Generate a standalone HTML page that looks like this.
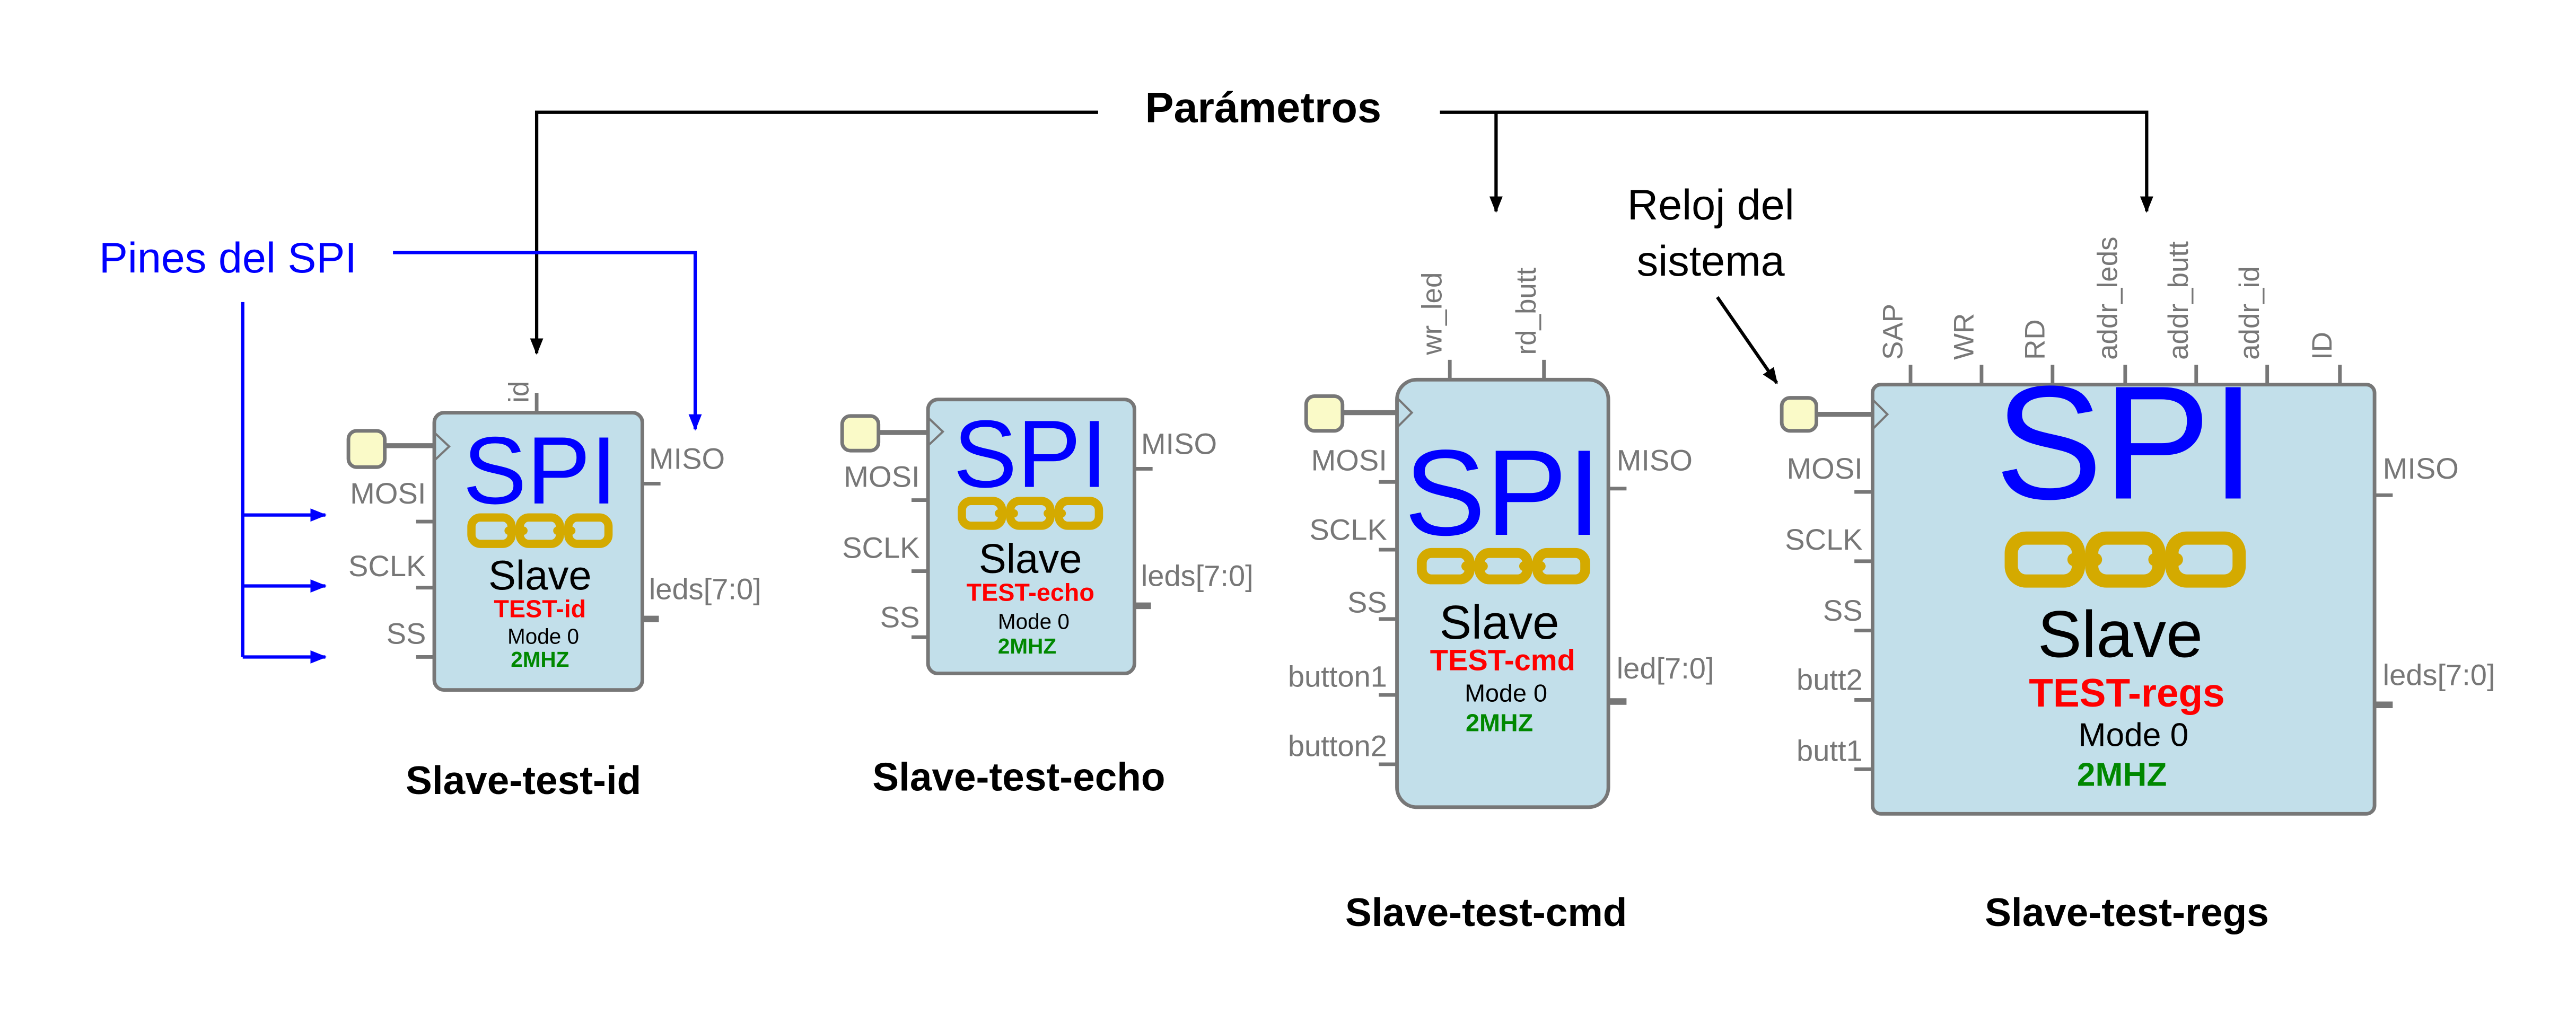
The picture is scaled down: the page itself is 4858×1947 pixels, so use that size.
<!DOCTYPE html>
<html><head><meta charset="utf-8"><style>
html,body{margin:0;padding:0;background:#fff;}
svg{display:block;}
text{font-family:"Liberation Sans Narrow","Liberation Sans",sans-serif;}
.g{fill:#777;}
.t{font-family:"Liberation Sans",sans-serif;}
</style></head><body>
<svg width="4858" height="1947" viewBox="0 0 1560 625.2" preserveAspectRatio="none" xmlns="http://www.w3.org/2000/svg">
<defs>
<marker id="ak" markerWidth="10" markerHeight="10" refX="9" refY="5" orient="auto" markerUnits="userSpaceOnUse"><path d="M0,1 L10,5 L0,9 z" fill="#000"/></marker>
<marker id="ab" markerWidth="10" markerHeight="10" refX="9" refY="5" orient="auto" markerUnits="userSpaceOnUse"><path d="M0,1 L10,5 L0,9 z" fill="#00f"/></marker>
</defs>

<!-- Parametros -->
<text x="765" y="74" class="t" font-size="26" font-weight="bold" text-anchor="middle" fill="#000">Parámetros</text>
<g stroke="#000" stroke-width="2" fill="none">
<path d="M665,68 H325 V214" marker-end="url(#ak)"/>
<path d="M872,68 H1300 V128" marker-end="url(#ak)"/>
<path d="M906,68 V128" marker-end="url(#ak)"/>
<path d="M1040,180 L1076,232" marker-end="url(#ak)"/>
</g>
<text x="1036" y="133" class="t" font-size="26" text-anchor="middle">Reloj del</text>
<text x="1036" y="167" class="t" font-size="26" text-anchor="middle">sistema</text>

<!-- Pines -->
<text x="60" y="165" class="t" font-size="26" fill="#00f">Pines del SPI</text>
<g stroke="#00f" stroke-width="2" fill="none">
<path d="M238,153 H421 V260" marker-end="url(#ab)"/>
<path d="M147,183 V398"/>
<path d="M147,312 H197" marker-end="url(#ab)"/>
<path d="M147,355 H197" marker-end="url(#ab)"/>
<path d="M147,398 H197" marker-end="url(#ab)"/>
</g>

<!-- Box 1 -->
<g stroke="#777" stroke-width="2.2">
<line x1="325" y1="238" x2="325" y2="250"/>
<line x1="233" y1="270" x2="263" y2="270" stroke-width="3"/>
<line x1="252" y1="316" x2="263" y2="316"/>
<line x1="252" y1="356" x2="263" y2="356"/>
<line x1="252" y1="398" x2="263" y2="398"/>
<line x1="389" y1="293" x2="400" y2="293"/>
<line x1="389" y1="375" x2="399" y2="375" stroke-width="4"/>
<rect x="263" y="250" width="126" height="168" rx="6" fill="#c2dfea"/>
<rect x="211" y="261" width="22" height="22" rx="5" fill="#fafac8"/>
<path d="M263,262 L272,270.5 L263,279" fill="none" stroke-width="1.3"/>
</g>
<text transform="translate(320,244) rotate(-90)" font-size="17" class="g">id</text>
<g font-size="18" class="g" text-anchor="end">
<text x="258" y="305">MOSI</text><text x="258" y="349">SCLK</text><text x="258" y="390">SS</text>
</g>
<g font-size="18" class="g"><text x="393" y="284">MISO</text><text x="393" y="363">leds[7:0]</text></g>
<g text-anchor="middle" font-weight="bold">
<text x="327" y="305" font-size="58" fill="#00f" font-weight="normal" class="t">SPI</text>
<text x="327" y="357" font-size="25" fill="#000" font-weight="normal">Slave</text>
<text x="327" y="374" font-size="15" fill="#f00">TEST-id</text>
<text x="329" y="390" font-size="13" fill="#000" font-weight="normal">Mode 0</text>
<text x="327" y="404" font-size="13" fill="#080">2MHZ</text>
</g>
<g fill="none" stroke="#d4aa00" stroke-width="5">
<rect x="285.5" y="313.5" width="24.3" height="16" rx="5.5"/><rect x="314.8" y="313.5" width="24.3" height="16" rx="5.5"/><rect x="344.2" y="313.5" width="24.3" height="16" rx="5.5"/>
<line x1="308" y1="321.5" x2="317" y2="321.5" stroke-linecap="round"/><line x1="337.5" y1="321.5" x2="346" y2="321.5" stroke-linecap="round"/>
</g>
<text x="317" y="481" class="t" font-size="24" font-weight="bold" text-anchor="middle">Slave-test-id</text>

<!-- Box 2 -->
<g stroke="#777" stroke-width="2.2">
<line x1="532" y1="262" x2="562" y2="262" stroke-width="3"/>
<line x1="552" y1="303" x2="562" y2="303"/>
<line x1="552" y1="346" x2="562" y2="346"/>
<line x1="552" y1="386" x2="562" y2="386"/>
<line x1="687" y1="284" x2="698" y2="284"/>
<line x1="687" y1="367" x2="697" y2="367" stroke-width="4"/>
<rect x="562" y="242" width="125" height="166" rx="6" fill="#c2dfea"/>
<rect x="510" y="252" width="22" height="21" rx="5" fill="#fafac8"/>
<path d="M562,253 L571,261.5 L562,270" fill="none" stroke-width="1.3"/>
</g>
<g font-size="18" class="g" text-anchor="end">
<text x="557" y="295">MOSI</text><text x="557" y="338">SCLK</text><text x="557" y="380">SS</text>
</g>
<g font-size="18" class="g"><text x="691" y="275">MISO</text><text x="691" y="355">leds[7:0]</text></g>
<g text-anchor="middle" font-weight="bold">
<text x="624" y="295" font-size="58" fill="#00f" font-weight="normal" class="t">SPI</text>
<text x="624" y="347" font-size="25" fill="#000" font-weight="normal">Slave</text>
<text x="624" y="364" font-size="15" fill="#f00">TEST-echo</text>
<text x="626" y="381" font-size="13" fill="#000" font-weight="normal">Mode 0</text>
<text x="622" y="396" font-size="13" fill="#080">2MHZ</text>
</g>
<g fill="none" stroke="#d4aa00" stroke-width="5">
<rect x="582.5" y="303.5" width="24.3" height="15" rx="5.5"/><rect x="611.8" y="303.5" width="24.3" height="15" rx="5.5"/><rect x="641.2" y="303.5" width="24.3" height="15" rx="5.5"/>
<line x1="605" y1="311" x2="614" y2="311" stroke-linecap="round"/><line x1="634.5" y1="311" x2="643" y2="311" stroke-linecap="round"/>
</g>
<text x="617" y="479" class="t" font-size="24" font-weight="bold" text-anchor="middle">Slave-test-echo</text>

<!-- Box 3 -->
<g stroke="#777" stroke-width="2.2">
<line x1="878" y1="218" x2="878" y2="230"/>
<line x1="935" y1="218" x2="935" y2="230"/>
<line x1="813" y1="250" x2="846" y2="250" stroke-width="3"/>
<line x1="835" y1="292" x2="846" y2="292"/>
<line x1="835" y1="333" x2="846" y2="333"/>
<line x1="835" y1="375" x2="846" y2="375"/>
<line x1="835" y1="421" x2="846" y2="421"/>
<line x1="835" y1="463" x2="846" y2="463"/>
<line x1="974" y1="296" x2="985" y2="296"/>
<line x1="974" y1="425" x2="985" y2="425" stroke-width="4"/>
<rect x="846" y="230" width="128" height="259" rx="12" fill="#c2dfea"/>
<rect x="791" y="240" width="22" height="21" rx="5" fill="#fafac8"/>
<path d="M846,241 L855,250 L846,259" fill="none" stroke-width="1.3"/>
</g>
<text transform="translate(873,215) rotate(-90)" font-size="17" class="g">wr_led</text>
<text transform="translate(930,215) rotate(-90)" font-size="17" class="g">rd_butt</text>
<g font-size="18" class="g" text-anchor="end">
<text x="840" y="285">MOSI</text><text x="840" y="327">SCLK</text><text x="840" y="371">SS</text><text x="840" y="416">button1</text><text x="840" y="458">button2</text>
</g>
<g font-size="18" class="g"><text x="979" y="285">MISO</text><text x="979" y="411">led[7:0]</text></g>
<g text-anchor="middle" font-weight="bold">
<text x="910" y="324" font-size="74" fill="#00f" font-weight="normal" class="t">SPI</text>
<text x="908" y="387" font-size="29" fill="#000" font-weight="normal">Slave</text>
<text x="910" y="406" font-size="18" fill="#f00">TEST-cmd</text>
<text x="912" y="425" font-size="15" fill="#000" font-weight="normal">Mode 0</text>
<text x="908" y="443" font-size="15" fill="#080">2MHZ</text>
</g>
<g fill="none" stroke="#d4aa00" stroke-width="6">
<rect x="861" y="335" width="29" height="16" rx="6"/><rect x="896" y="335" width="29" height="16" rx="6"/><rect x="931" y="335" width="29" height="16" rx="6"/>
<line x1="888" y1="343" x2="898" y2="343" stroke-linecap="round"/><line x1="923" y1="343" x2="933" y2="343" stroke-linecap="round"/>
</g>
<text x="900" y="561" class="t" font-size="24" font-weight="bold" text-anchor="middle">Slave-test-cmd</text>

<!-- Box 4 -->
<g stroke="#777" stroke-width="2.2">
<line x1="1157" y1="221" x2="1157" y2="233"/>
<line x1="1200" y1="221" x2="1200" y2="233"/>
<line x1="1243" y1="221" x2="1243" y2="233"/>
<line x1="1287" y1="221" x2="1287" y2="233"/>
<line x1="1330" y1="221" x2="1330" y2="233"/>
<line x1="1373" y1="221" x2="1373" y2="233"/>
<line x1="1417" y1="221" x2="1417" y2="233"/>
<line x1="1100" y1="251" x2="1134" y2="251" stroke-width="3"/>
<line x1="1123" y1="298" x2="1134" y2="298"/>
<line x1="1123" y1="340" x2="1134" y2="340"/>
<line x1="1123" y1="382" x2="1134" y2="382"/>
<line x1="1123" y1="424" x2="1134" y2="424"/>
<line x1="1123" y1="466" x2="1134" y2="466"/>
<line x1="1438" y1="300" x2="1449" y2="300"/>
<line x1="1438" y1="427" x2="1449" y2="427" stroke-width="4"/>
<rect x="1134" y="233" width="304" height="260" rx="5" fill="#c2dfea"/>
<rect x="1079" y="241" width="21" height="20" rx="5" fill="#fafac8"/>
<path d="M1134,242 L1143,251 L1134,260" fill="none" stroke-width="1.3"/>
</g>
<g font-size="17" class="g">
<text transform="translate(1152,218) rotate(-90)">SAP</text>
<text transform="translate(1195,218) rotate(-90)">WR</text>
<text transform="translate(1238,218) rotate(-90)">RD</text>
<text transform="translate(1282,218) rotate(-90)">addr_leds</text>
<text transform="translate(1325,218) rotate(-90)">addr_butt</text>
<text transform="translate(1368,218) rotate(-90)">addr_id</text>
<text transform="translate(1412,218) rotate(-90)">ID</text>
</g>
<g font-size="18" class="g" text-anchor="end">
<text x="1128" y="290">MOSI</text><text x="1128" y="333">SCLK</text><text x="1128" y="376">SS</text><text x="1128" y="418">butt2</text><text x="1128" y="461">butt1</text>
</g>
<g font-size="18" class="g"><text x="1443" y="290">MISO</text><text x="1443" y="415">leds[7:0]</text></g>
<g text-anchor="middle" font-weight="bold">
<text x="1287" y="302" font-size="98" fill="#00f" font-weight="normal" class="t">SPI</text>
<text x="1284" y="398" font-size="40" fill="#000" font-weight="normal">Slave</text>
<text x="1288" y="428" font-size="24" fill="#f00">TEST-regs</text>
<text x="1292" y="452" font-size="20" fill="#000" font-weight="normal">Mode 0</text>
<text x="1285" y="476" font-size="20" fill="#080">2MHZ</text>
</g>
<g fill="none" stroke="#d4aa00" stroke-width="8">
<rect x="1218" y="326" width="40.7" height="26" rx="9"/><rect x="1266.7" y="326" width="40.7" height="26" rx="9"/><rect x="1315.3" y="326" width="40.7" height="26" rx="9"/>
<line x1="1256" y1="339" x2="1269" y2="339" stroke-linecap="round"/><line x1="1305" y1="339" x2="1318" y2="339" stroke-linecap="round"/>
</g>
<text x="1288" y="561" class="t" font-size="24" font-weight="bold" text-anchor="middle">Slave-test-regs</text>
</svg>
</body></html>
